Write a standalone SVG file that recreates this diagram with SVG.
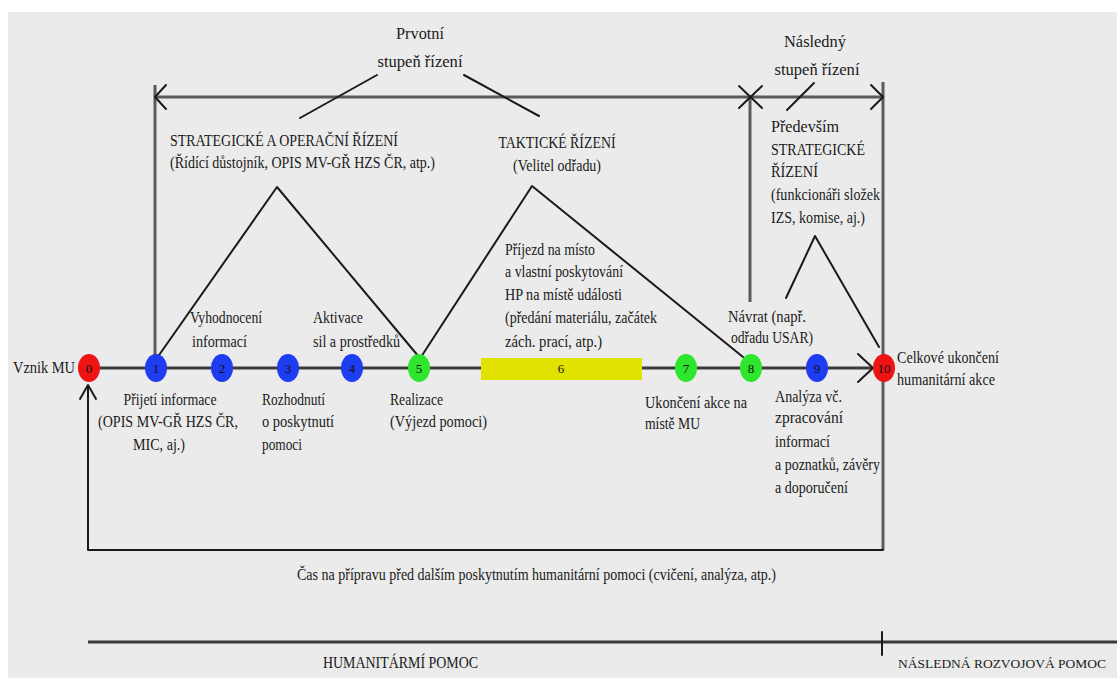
<svg xmlns="http://www.w3.org/2000/svg" width="1117" height="678" viewBox="0 0 1117 678">
<style>
.t{font-family:"Liberation Serif","Times New Roman",serif;font-size:16px;fill:#1a1a1a;}
.n{font-family:"Liberation Serif","Times New Roman",serif;font-size:13px;fill:#111;text-anchor:middle;}
.ln{fill:none;stroke:#1a1a1a;stroke-width:2;stroke-linecap:round;stroke-linejoin:round;}
.axis{fill:none;stroke:#3a3a3a;stroke-width:3;}
.br{fill:none;stroke:#5a5a5a;stroke-width:3;}
.red{fill:#ee1414;}
.blue{fill:#1e3cf0;}
.green{fill:#2ee62e;}
</style>
<rect x="0" y="0" width="1117" height="678" fill="#ffffff"/>
<rect x="8" y="12" width="1109" height="666" fill="#ebebeb"/>

<g id="connectors">
  <line class="axis" x1="89" y1="368" x2="872" y2="368"/>
  <polyline class="ln" points="858,354 873,368 858,382" stroke-width="2.5"/>
  <line class="br" x1="155" y1="97" x2="883" y2="97"/>
  <line class="br" x1="155" y1="85" x2="155" y2="357"/>
  <polyline class="ln" points="166,85 155,97 166,109"/>
  <line class="br" x1="750" y1="97" x2="750" y2="302"/>
  <line class="ln" x1="739" y1="86" x2="762" y2="108"/>
  <line class="ln" x1="739" y1="108" x2="762" y2="86"/>
  <line class="br" x1="883" y1="82" x2="883" y2="550"/>
  <polyline class="ln" points="871,85 883,97 871,109"/>
  <line class="ln" x1="377" y1="75" x2="300" y2="118"/>
  <line class="ln" x1="464" y1="75" x2="539" y2="116"/>
  <line class="ln" x1="814" y1="83" x2="787" y2="110"/>
  <polyline class="ln" points="157,358 277,187 419,357"/>
  <polyline class="ln" points="421,357 532,186 743,357"/>
  <polyline class="ln" points="786,298 815,236 879,347"/>
  <polyline class="ln" points="883,550 88,550 88,386"/>
  <polyline class="ln" points="80,399 88,385 96,399"/>
  <line class="axis" x1="88" y1="642" x2="1117" y2="642"/>
  <line class="ln" x1="882" y1="632" x2="882" y2="655"/>
</g>

<g id="labels-top">
  <text class="t" x="420" y="39" text-anchor="middle" textLength="48" lengthAdjust="spacingAndGlyphs">Prvotní</text>
  <text class="t" x="420" y="67" text-anchor="middle" textLength="85" lengthAdjust="spacingAndGlyphs">stupeň řízení</text>
  <text class="t" x="170" y="146" textLength="228" lengthAdjust="spacingAndGlyphs">STRATEGICKÉ A OPERAČNÍ ŘÍZENÍ</text>
  <text class="t" x="170" y="168" textLength="265" lengthAdjust="spacingAndGlyphs">(Řídící důstojník, OPIS MV-GŘ HZS ČR, atp.)</text>
  <text class="t" x="557" y="148" text-anchor="middle" textLength="117" lengthAdjust="spacingAndGlyphs">TAKTICKÉ ŘÍZENÍ</text>
  <text class="t" x="557" y="171" text-anchor="middle" textLength="88" lengthAdjust="spacingAndGlyphs">(Velitel odřadu)</text>
  <text class="t" x="815" y="47" text-anchor="middle" textLength="62" lengthAdjust="spacingAndGlyphs">Následný</text>
  <text class="t" x="817" y="75" text-anchor="middle" textLength="85" lengthAdjust="spacingAndGlyphs">stupeň řízení</text>
  <text class="t" x="771" y="132" textLength="68" lengthAdjust="spacingAndGlyphs">Především</text>
  <text class="t" x="771" y="155" textLength="94" lengthAdjust="spacingAndGlyphs">STRATEGICKÉ</text>
  <text class="t" x="771" y="177" textLength="47" lengthAdjust="spacingAndGlyphs">ŘÍZENÍ</text>
  <text class="t" x="771" y="200" textLength="109" lengthAdjust="spacingAndGlyphs">(funkcionáři složek</text>
  <text class="t" x="771" y="223" textLength="94" lengthAdjust="spacingAndGlyphs">IZS, komise, aj.)</text>
</g>

<g id="labels-steps">
  <text class="t" x="505" y="255" textLength="90" lengthAdjust="spacingAndGlyphs">Příjezd na místo</text>
  <text class="t" x="505" y="277" textLength="118" lengthAdjust="spacingAndGlyphs">a vlastní poskytování</text>
  <text class="t" x="505" y="300" textLength="117" lengthAdjust="spacingAndGlyphs">HP na místě události</text>
  <text class="t" x="505" y="323" textLength="152" lengthAdjust="spacingAndGlyphs">(předání materiálu, začátek</text>
  <text class="t" x="505" y="347" textLength="97" lengthAdjust="spacingAndGlyphs">zách. prací, atp.)</text>
  <text class="t" x="728" y="322" textLength="78" lengthAdjust="spacingAndGlyphs">Návrat (např.</text>
  <text class="t" x="731" y="343" textLength="82" lengthAdjust="spacingAndGlyphs">odřadu USAR)</text>
  <text class="t" x="13" y="373" textLength="62" lengthAdjust="spacingAndGlyphs">Vznik MU</text>
  <text class="t" x="190" y="323" textLength="72" lengthAdjust="spacingAndGlyphs">Vyhodnocení</text>
  <text class="t" x="192" y="347" textLength="55" lengthAdjust="spacingAndGlyphs">informací</text>
  <text class="t" x="313" y="323" textLength="50" lengthAdjust="spacingAndGlyphs">Aktivace</text>
  <text class="t" x="313" y="347" textLength="87" lengthAdjust="spacingAndGlyphs">sil a prostředků</text>
  <text class="t" x="170" y="405" text-anchor="middle" textLength="93" lengthAdjust="spacingAndGlyphs">Přijetí informace</text>
  <text class="t" x="168" y="427" text-anchor="middle" textLength="140" lengthAdjust="spacingAndGlyphs">(OPIS MV-GŘ HZS ČR,</text>
  <text class="t" x="159" y="450" text-anchor="middle" textLength="52" lengthAdjust="spacingAndGlyphs">MIC, aj.)</text>
  <text class="t" x="262" y="405" textLength="63" lengthAdjust="spacingAndGlyphs">Rozhodnutí</text>
  <text class="t" x="262" y="427" textLength="72" lengthAdjust="spacingAndGlyphs">o poskytnutí</text>
  <text class="t" x="262" y="450" textLength="40" lengthAdjust="spacingAndGlyphs">pomoci</text>
  <text class="t" x="390" y="405" textLength="53" lengthAdjust="spacingAndGlyphs">Realizace</text>
  <text class="t" x="390" y="427" textLength="97" lengthAdjust="spacingAndGlyphs">(Výjezd pomoci)</text>
  <text class="t" x="645" y="408" textLength="102" lengthAdjust="spacingAndGlyphs">Ukončení akce na</text>
  <text class="t" x="645" y="429" textLength="55" lengthAdjust="spacingAndGlyphs">místě MU</text>
  <text class="t" x="775" y="402" textLength="67" lengthAdjust="spacingAndGlyphs">Analýza vč.</text>
  <text class="t" x="775" y="423" textLength="68" lengthAdjust="spacingAndGlyphs">zpracování</text>
  <text class="t" x="775" y="447" textLength="55" lengthAdjust="spacingAndGlyphs">informací</text>
  <text class="t" x="775" y="470" textLength="105" lengthAdjust="spacingAndGlyphs">a poznatků, závěry</text>
  <text class="t" x="775" y="493" textLength="73" lengthAdjust="spacingAndGlyphs">a doporučení</text>
  <text class="t" x="897" y="363" textLength="102" lengthAdjust="spacingAndGlyphs">Celkové ukončení</text>
  <text class="t" x="897" y="385" textLength="98" lengthAdjust="spacingAndGlyphs">humanitární akce</text>
</g>

<g id="labels-bottom">
  <text class="t" x="297" y="580" textLength="479" lengthAdjust="spacingAndGlyphs">Čas na přípravu před dalším poskytnutím humanitární pomoci (cvičení, analýza, atp.)</text>
  <text class="t" x="323" y="668" textLength="155" lengthAdjust="spacingAndGlyphs">HUMANITÁRMÍ POMOC</text>
  <text class="t" x="898" y="668" style="font-size:13px" textLength="208" lengthAdjust="spacingAndGlyphs">NÁSLEDNÁ ROZVOJOVÁ POMOC</text>
</g>

<g id="node-0"><ellipse class="red" cx="89" cy="368" rx="11" ry="14"/><text class="n" x="89" y="373">0</text></g>
<g id="node-1"><ellipse class="blue" cx="156" cy="368" rx="11" ry="14"/><text class="n" x="156" y="373">1</text></g>
<g id="node-2"><ellipse class="blue" cx="222" cy="368" rx="11" ry="14"/><text class="n" x="222" y="373">2</text></g>
<g id="node-3"><ellipse class="blue" cx="288" cy="368" rx="11" ry="14"/><text class="n" x="288" y="373">3</text></g>
<g id="node-4"><ellipse class="blue" cx="352" cy="368" rx="11" ry="14"/><text class="n" x="352" y="373">4</text></g>
<g id="node-5"><ellipse class="green" cx="419" cy="368" rx="11" ry="14"/><text class="n" x="419" y="373">5</text></g>
<g id="node-6"><rect x="481" y="358" width="161" height="22" fill="#e2e200"/><text class="n" x="561" y="373">6</text></g>
<g id="node-7"><ellipse class="green" cx="686" cy="368" rx="11" ry="14"/><text class="n" x="686" y="373">7</text></g>
<g id="node-8"><ellipse class="green" cx="751" cy="368" rx="11" ry="14"/><text class="n" x="751" y="373">8</text></g>
<g id="node-9"><ellipse class="blue" cx="817" cy="368" rx="11" ry="14"/><text class="n" x="817" y="373">9</text></g>
<g id="node-10"><ellipse class="red" cx="884" cy="368" rx="11" ry="14"/><text class="n" x="884" y="373">10</text></g>
</svg>
